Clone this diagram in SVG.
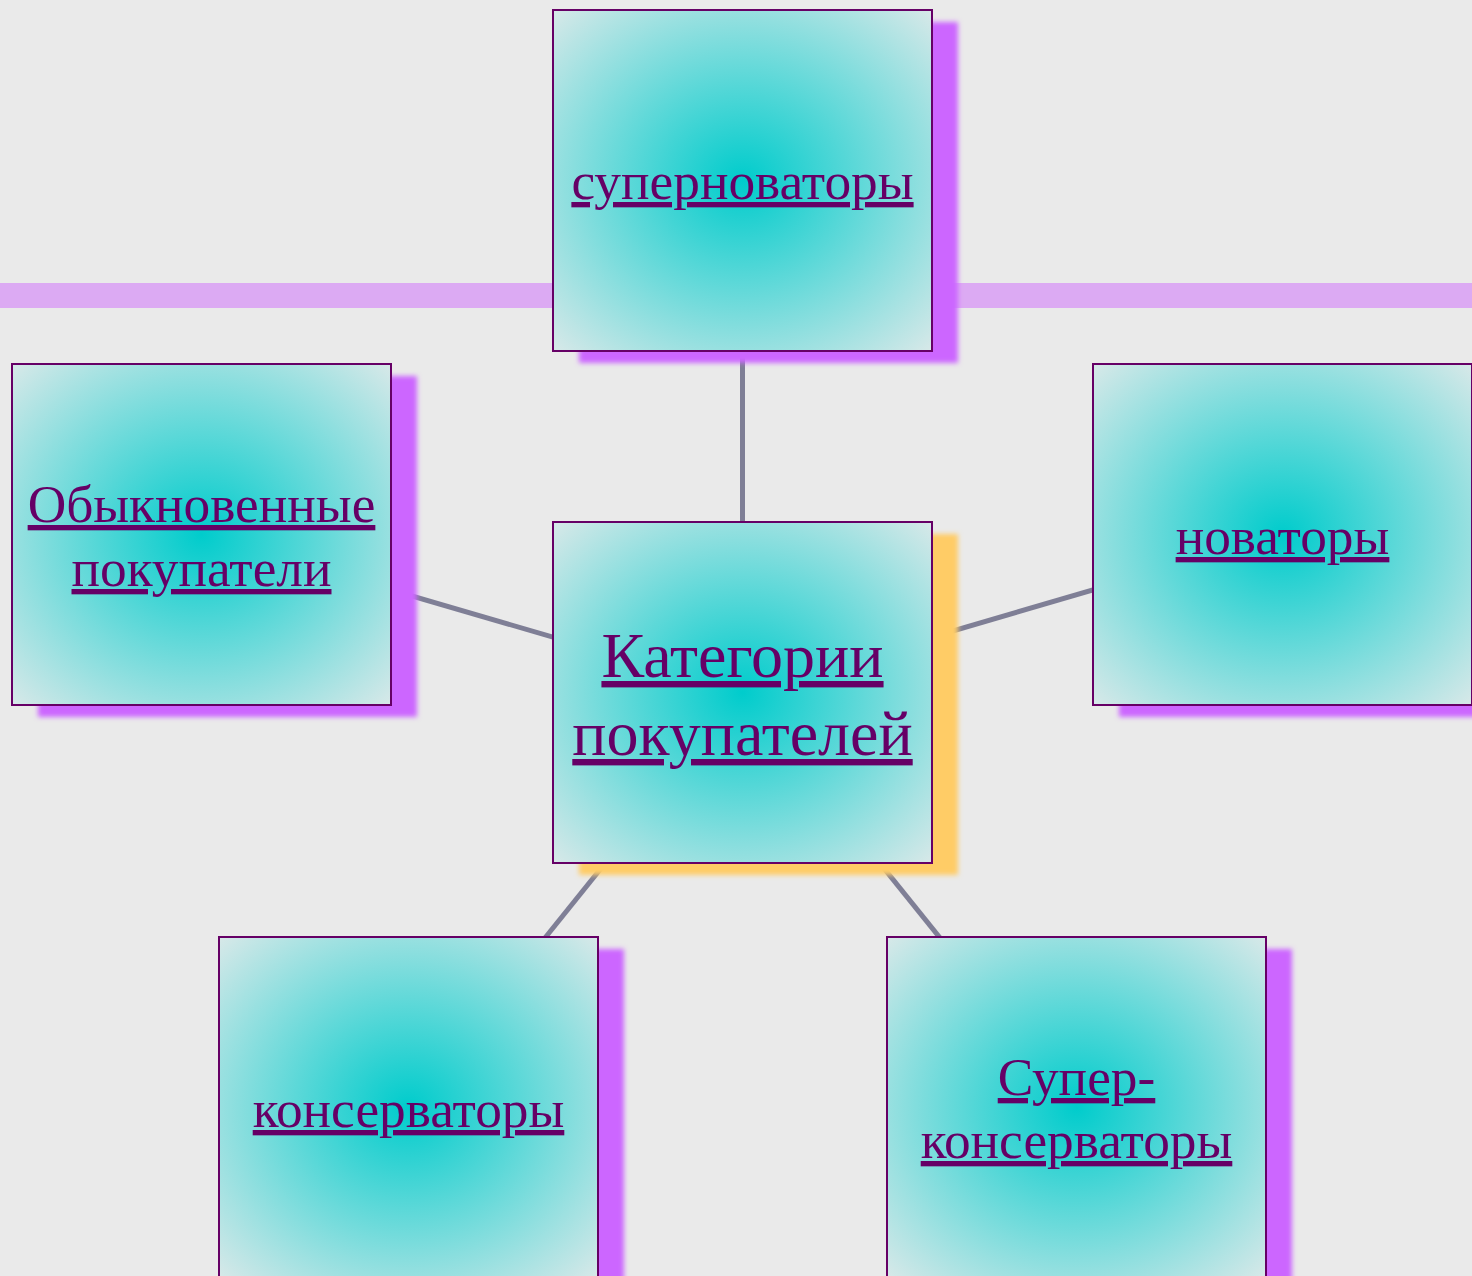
<svg xmlns="http://www.w3.org/2000/svg" width="1472" height="1276" viewBox="0 0 1472 1276">
<style>
.box{fill:url(#rg);stroke:#660066;stroke-width:2}
.sh{filter:url(#blur)}
.sp{fill:#CC66FF}
.sy{fill:#FFCC66}
.t{font-family:"Liberation Serif","Times New Roman",serif;fill:#660066;text-anchor:middle;text-decoration:underline;text-decoration-skip-ink:none;text-decoration-thickness:4px}
.s{font-size:53.33px}
.b{font-size:64px}
.con line{stroke:#7F7F96;stroke-width:5}
</style>
<defs>
<radialGradient id="rg" cx="0.5" cy="0.5" r="0.72">
<stop offset="0" stop-color="#00CCCC"/>
<stop offset="1" stop-color="#DCE9E9"/>
</radialGradient>
<filter id="blur" x="-10%" y="-10%" width="120%" height="120%">
<feGaussianBlur stdDeviation="2.5"/>
</filter>
</defs>
<rect width="1472" height="1276" fill="#EAEAEA"/>
<rect x="0" y="283" width="1472" height="25" fill="#DCAAF3"/>
<g id="connectors" class="con">
<line x1="742.5" y1="692.5" x2="742.5" y2="180.5"/>
<line x1="742.5" y1="692.5" x2="201.5" y2="534.5"/>
<line x1="742.5" y1="692.5" x2="1282.5" y2="534.5"/>
<line x1="742.5" y1="692.5" x2="408.5" y2="1107.5"/>
<line x1="742.5" y1="692.5" x2="1076.5" y2="1107.5"/>
</g>
<g id="node-top">
<rect class="sh sp" x="579" y="22" width="379" height="341"/>
<rect class="box" x="553" y="10" width="379" height="341"/>
<text class="t s" x="742.5" y="199">суперноваторы</text>
</g>
<g id="node-left">
<rect class="sh sp" x="38" y="376" width="379" height="341"/>
<rect class="box" x="12" y="364" width="379" height="341"/>
<text class="t s" x="201.5" y="522">Обыкновенные</text>
<text class="t s" x="201.5" y="586">покупатели</text>
</g>
<g id="node-right">
<rect class="sh sp" x="1119" y="376" width="379" height="341"/>
<rect class="box" x="1093" y="364" width="379" height="341"/>
<text class="t s" x="1282.5" y="554">новаторы</text>
</g>
<g id="node-bottom-left">
<rect class="sh sp" x="245" y="949" width="379" height="341"/>
<rect class="box" x="219" y="937" width="379" height="341"/>
<text class="t s" x="408.5" y="1127">консерваторы</text>
</g>
<g id="node-bottom-right">
<rect class="sh sp" x="913" y="949" width="379" height="341"/>
<rect class="box" x="887" y="937" width="379" height="341"/>
<text class="t s" x="1076.5" y="1095">Супер-</text>
<text class="t s" x="1076.5" y="1158">консерваторы</text>
</g>
<g id="node-center">
<rect class="sh sy" x="579" y="534" width="379" height="341"/>
<rect class="box" x="553" y="522" width="379" height="341"/>
<text class="t b" x="742.5" y="677">Категории</text>
<text class="t b" x="742.5" y="755">покупателей</text>
</g>
</svg>
